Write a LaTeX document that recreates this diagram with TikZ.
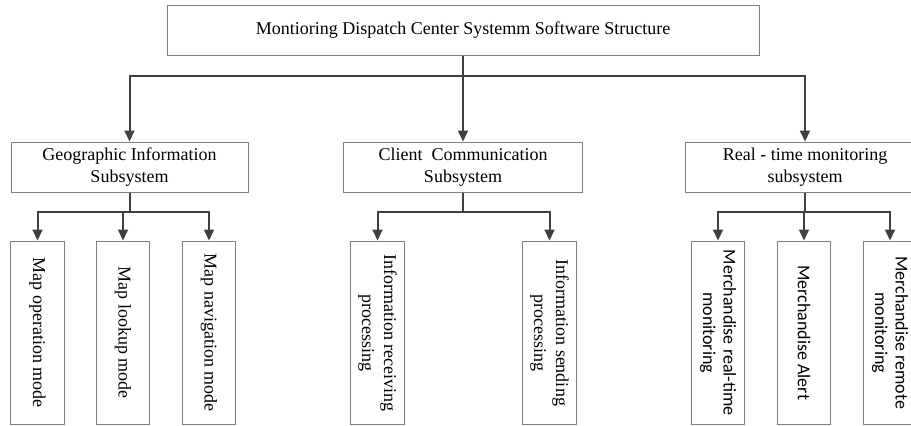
\documentclass[tikz,border=0pt]{standalone}
\usepackage{fontspec}
\setmainfont{Liberation Serif}
\newfontfamily\sansf{Carlito}
\usetikzlibrary{arrows.meta}
\definecolor{boxline}{HTML}{808080}
\definecolor{arrline}{HTML}{404040}
\tikzset{
  box/.style={draw=boxline, line width=1pt, fill=none, inner sep=0pt, align=center,
    font=\fontsize{18}{22}\selectfont},
  midbox/.style={box, minimum height=50pt},
  leaf/.style={box, rotate=-90, minimum width=183.5pt, minimum height=53.5pt},
  sleaf/.style={leaf, font=\sansf\fontsize{18}{20.5}\selectfont},
  conn/.style={draw=arrline, line width=2pt, -{Triangle[width=10pt,length=11pt]}},
}
\begin{document}
\begin{tikzpicture}[x=1pt,y=-1pt]
\useasboundingbox (0,0) rectangle (911,426);
% top
\node[midbox, minimum width=592pt] (top) at (463,30) {Montioring Dispatch Center Systemm Software Structure};
% middle
\node[midbox, minimum width=237pt] (geo) at (129.5,167) {Geographic Information\\Subsystem};
\node[midbox, minimum width=239pt] (cli) at (463,167) {Client\ \ Communication\\Subsystem};
\node[midbox, minimum width=240pt] (rt) at (805,167) {Real - time monitoring\\subsystem};
% leaves
\node[leaf] (m1) at (37.5,332.75) {Map operation mode};
\node[leaf] (m2) at (123,332.75) {Map lookup mode};
\node[leaf] (m3) at (209,332.75) {Map navigation mode};
\node[leaf] (i1) at (377.5,332.75) {Information receiving\\processing};
\node[leaf] (i2) at (549.5,332.75) {Information sending\\processing};
\node[sleaf] (r1) at (718,332.75) {Merchandise real-time\\monitoring};
\node[sleaf] (r2) at (804,332.75) {Merchandise Alert};
\node[sleaf] (r3) at (890,332.75) {Merchandise remote\\monitoring};
% connectors
\draw[conn] (top.south) -- ++(0,20) -| (geo.north);
\draw[conn] (top.south) -- (cli.north);
\draw[conn] (top.south) -- ++(0,20) -| (rt.north);
\draw[conn] (geo.south) -- ++(0,19) -| (m1.west);
\draw[conn] (geo.south) -- ++(0,19) -| (m2.west);
\draw[conn] (geo.south) -- ++(0,19) -| (m3.west);
\draw[conn] (cli.south) -- ++(0,19) -| (i1.west);
\draw[conn] (cli.south) -- ++(0,19) -| (i2.west);
\draw[conn] (rt.south) -- ++(0,19) -| (r1.west);
\draw[conn] (rt.south) -- ++(0,19) -| (r2.west);
\draw[conn] (rt.south) -- ++(0,19) -| (r3.west);
\end{tikzpicture}
\end{document}
